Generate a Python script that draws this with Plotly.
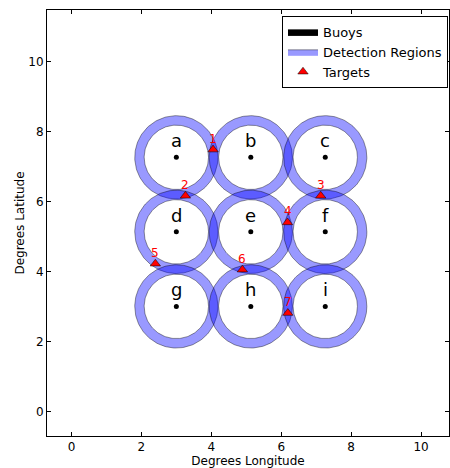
import numpy as np
import plotly.graph_objects as go

# Buoy grid (degrees longitude / latitude)
buoy_labels = ["a", "b", "c", "d", "e", "f", "g", "h", "i"]
buoy_lon = [3.00, 5.13, 7.26, 3.00, 5.13, 7.26, 3.00, 5.13, 7.26]
buoy_lat = [7.27, 7.27, 7.27, 5.14, 5.14, 5.14, 3.01, 3.01, 3.01]

# Targets
target_ids = ["1", "2", "3", "4", "5", "6", "7"]
target_lon = [4.05, 3.26, 7.13, 6.18, 2.40, 4.89, 6.19]
target_lat = [7.49, 6.17, 6.17, 5.41, 4.23, 4.06, 2.82]

# Detection ring radii (degrees)
ring_inner = 0.92
ring_outer = 1.19

FONT = "DejaVu Sans"

fig = go.Figure()

# Legend proxy for the buoys (black swatch)
fig.add_trace(go.Scatter(
    x=[None], y=[None], mode="lines", fill="toself",
    fillcolor="black", line=dict(color="black", width=1),
    name="Buoys", legendgroup="buoys", hoverinfo="skip",
))

# Annular detection regions, one trace per buoy so overlaps darken
theta = np.linspace(0, 2 * np.pi, 181)
for k, (cx, cy) in enumerate(zip(buoy_lon, buoy_lat)):
    xs = list(cx + ring_outer * np.cos(theta)) + [None] + list(cx + ring_inner * np.cos(-theta))
    ys = list(cy + ring_outer * np.sin(theta)) + [None] + list(cy + ring_inner * np.sin(-theta))
    fig.add_trace(go.Scatter(
        x=xs, y=ys, mode="lines", fill="toself",
        fillcolor="rgba(0,0,255,0.4)",
        line=dict(color="rgba(0,0,0,0.4)", width=1),
        name="Detection Regions", legendgroup="regions",
        showlegend=(k == 0), hoverinfo="skip",
    ))

# Buoy positions
fig.add_trace(go.Scatter(
    x=buoy_lon, y=buoy_lat, mode="markers",
    marker=dict(color="black", size=5),
    legendgroup="buoys", showlegend=False, hoverinfo="skip",
))

# Targets
fig.add_trace(go.Scatter(
    x=target_lon, y=target_lat, mode="markers",
    marker=dict(symbol="triangle-up", size=9, color="red",
                line=dict(color="black", width=0.5)),
    name="Targets", legendgroup="targets",
))

annotations = []
# Buoy letters above each buoy
for lbl, x, y in zip(buoy_labels, buoy_lon, buoy_lat):
    annotations.append(dict(
        x=x, y=y, text=lbl, showarrow=False,
        xanchor="center", yanchor="bottom", yshift=4,
        font=dict(family=FONT, size=18, color="black"),
    ))
# Target numbers above each target
for tid, x, y in zip(target_ids, target_lon, target_lat):
    annotations.append(dict(
        x=x, y=y, text=tid, showarrow=False,
        xanchor="center", yanchor="bottom", yshift=2,
        font=dict(family=FONT, size=12, color="red"),
    ))

axis_common = dict(
    showline=True, linecolor="black", linewidth=1, mirror="ticks",
    ticks="inside", ticklen=4, tickcolor="black",
    showgrid=False, zeroline=False,
    tickfont=dict(family=FONT, size=12, color="black"),
)

fig.update_layout(
    width=450, height=468,
    margin=dict(l=47, r=1, t=10, b=32),
    paper_bgcolor="white", plot_bgcolor="white",
    font=dict(family=FONT, size=12, color="black"),
    xaxis=dict(range=[-0.7, 10.8], tickvals=[0, 2, 4, 6, 8, 10],
               title=dict(text="Degrees Longitude", standoff=5,
                          font=dict(family=FONT, size=12)),
               **axis_common),
    yaxis=dict(range=[-0.694, 11.48], tickvals=[0, 2, 4, 6, 8, 10],
               title=dict(text="Degrees Latitude", standoff=1,
                          font=dict(family=FONT, size=12)),
               **axis_common),
    legend=dict(
        x=0.9975, xanchor="right", y=0.986, yanchor="top",
        bgcolor="white", bordercolor="black", borderwidth=1,
        tracegroupgap=0,
        font=dict(family=FONT, size=13, color="black"),
    ),
    annotations=annotations,
    showlegend=True,
)

fig.write_html("out.html")
